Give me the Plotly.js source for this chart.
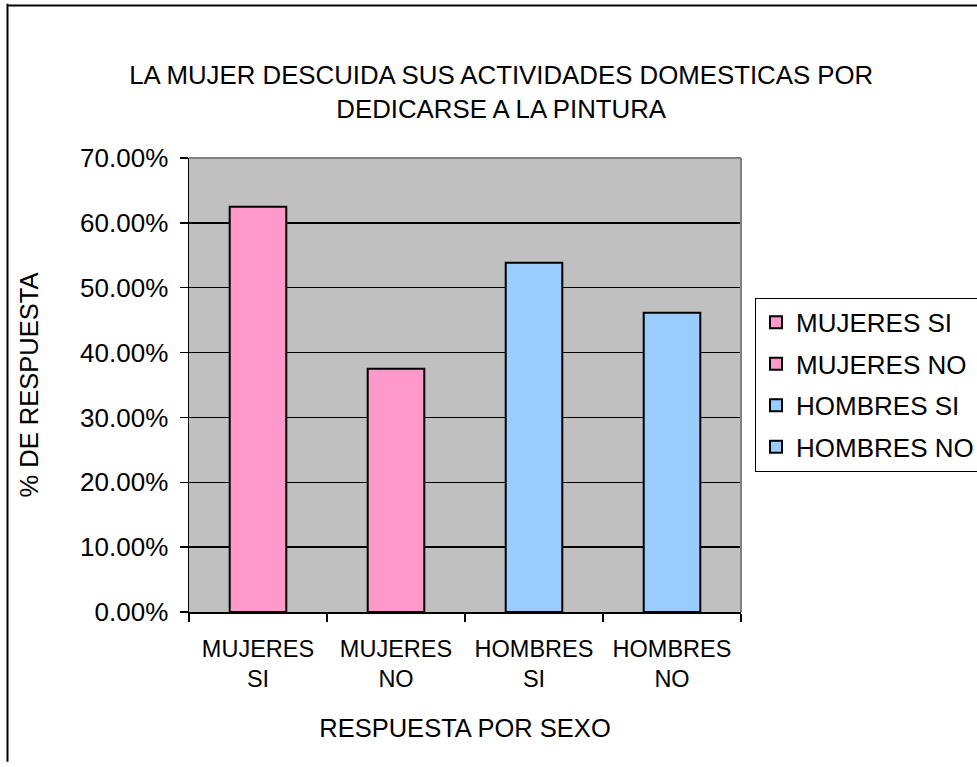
<!DOCTYPE html>
<html>
<head>
<meta charset="utf-8">
<script src="https://cdn.plot.ly/plotly-3.0.1.min.js"></script>
<style>html,body{margin:0;padding:0;background:#fff;}#chart{width:977px;height:767px;}</style>
</head>
<body>
<div id="chart"></div>
<script>
const categories = ["MUJERES SI", "MUJERES NO", "HOMBRES SI", "HOMBRES NO"];
const tickLabels = ["MUJERES<br>SI", "MUJERES<br>NO", "HOMBRES<br>SI", "HOMBRES<br>NO"];
const values = [0.625, 0.375, 0.5385, 0.4615];
const colors = ["#FF99CC", "#FF99CC", "#99CCFF", "#99CCFF"];
const yTicks = [0, 0.1, 0.2, 0.3, 0.4, 0.5, 0.6, 0.7];

const FONT = "Liberation Sans, Arial, sans-serif";

const traces = categories.map((c, i) => ({
  type: "bar",
  name: c,
  legendgroup: "g" + i,
  x: [c],
  y: [values[i]],
  width: 0.41,
  marker: {color: colors[i], line: {color: "#000", width: 2}},
  hoverinfo: "x+y"
}));

const layout = {
  width: 977, height: 767,
  paper_bgcolor: "#fff",
  plot_bgcolor: "#C0C0C0",
  margin: {l: 189, r: 236, t: 158, b: 155, pad: 0, autoexpand: false},
  barmode: "overlay",
  showlegend: true,
  font: {family: FONT, size: 24, color: "#000"},
  title: {
    text: "LA MUJER DESCUIDA SUS ACTIVIDADES DOMESTICAS POR<br>DEDICARSE A LA PINTURA",
    font: {family: FONT, size: 25.8, color: "#000"},
    x: 0.513, xanchor: "center", xref: "container",
    y: 0.890, yanchor: "middle", yref: "container"
  },
  xaxis: {
    type: "category",
    tickvals: categories,
    ticktext: tickLabels,
    tickson: "boundaries",
    ticks: "outside", ticklen: 8, tickcolor: "#000", tickwidth: 1.5,
    showline: true, linecolor: "#000", linewidth: 1.5,
    showgrid: false,
    tickfont: {family: FONT, size: 23.5},
    ticklabelstandoff: 15,
    title: {text: "RESPUESTA POR SEXO", font: {family: FONT, size: 25.5}, standoff: 28},
    range: [-0.5, 3.5],
    fixedrange: true
  },
  yaxis: {
    range: [0, 0.7],
    tickvals: yTicks,
    tickformat: ".2%",
    ticks: "outside", ticklen: 8, tickcolor: "#000", tickwidth: 1.5,
    showline: true, linecolor: "#000", linewidth: 1.5,
    showgrid: true, gridcolor: "#000", gridwidth: 1.5,
    zeroline: false,
    tickfont: {family: FONT, size: 26},
    ticklabelstandoff: 6,
    title: {text: "% DE RESPUESTA", font: {family: FONT, size: 25.5}, standoff: 34},
    fixedrange: true
  },
  legend: {
    x: 1.0254, xanchor: "left", xref: "paper",
    y: 0.692, yanchor: "top",
    bgcolor: "#fff", bordercolor: "#000", borderwidth: 1,
    font: {family: FONT, size: 26},
    tracegroupgap: 4.7,
    itemwidth: 30,
    traceorder: "grouped"
  },
  shapes: [
    {type: "line", xref: "paper", yref: "paper", x0: 1, x1: 1, y0: 0, y1: 1, line: {color: "#808080", width: 2}},
    {type: "line", xref: "paper", yref: "paper", x0: 0, x1: 1, y0: 1, y1: 1, line: {color: "#808080", width: 2}},
    {type: "line", xref: "paper", yref: "paper", x0: -0.3288, x1: -0.3288, y0: -0.33, y1: 1.34, line: {color: "#000", width: 2}},
    {type: "line", xref: "paper", yref: "paper", x0: -0.3288, x1: 1.5, y0: 1.336, y1: 1.336, line: {color: "#000", width: 2}}
  ]
};

Plotly.newPlot("chart", traces, layout, {displayModeBar: false, staticPlot: true});
</script>
</body>
</html>
